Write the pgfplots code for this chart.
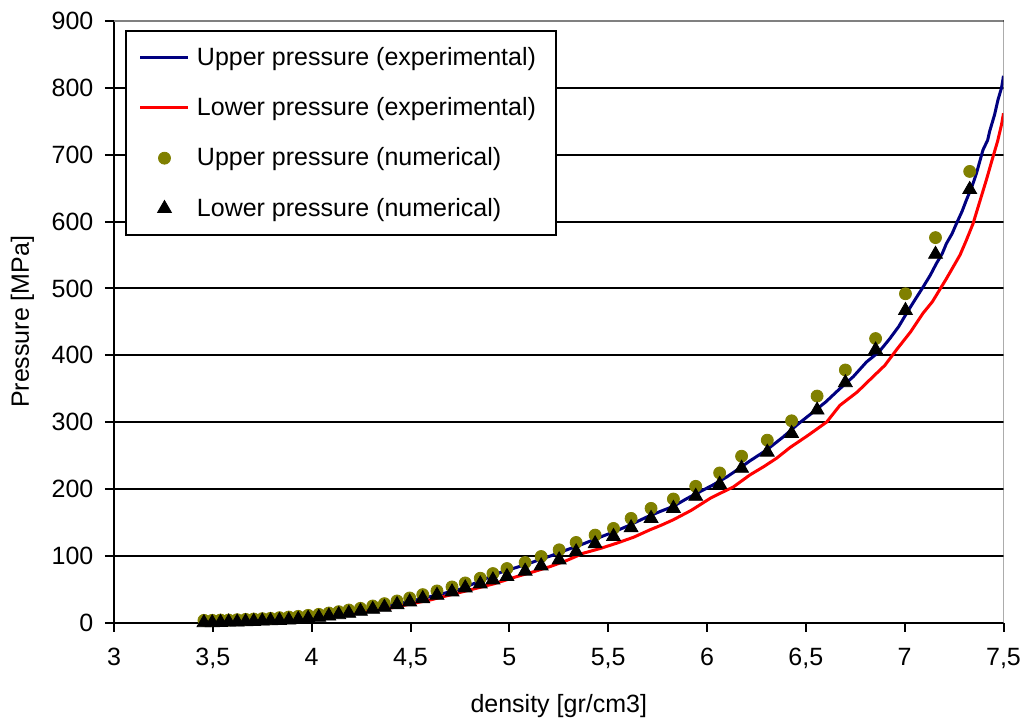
\documentclass[border=0pt]{standalone}
\usepackage{fontspec}
\setmainfont{Liberation Sans}
\usepackage{pgfplots}
\pgfplotsset{compat=1.18}

\definecolor{upperblue}{RGB}{0,0,128}
\definecolor{lowerred}{RGB}{255,0,0}
\definecolor{olivept}{RGB}{128,128,0}
\definecolor{framegray}{RGB}{128,128,128}

% numerical results: density, upper pressure, lower pressure
\pgfplotstableread{
rho   pup    plow
3.455 3.5    0
3.497 3.5    0
3.539 4      0.5
3.580 4      1
3.623 4.5    1
3.666 5      1.5
3.707 5.5    2
3.750 6      2.5
3.792 6.5    3
3.837 7.5    3.5
3.884 8.5    4
3.932 9.5    5
3.982 11     6.5
4.036 12.5   8
4.087 14.5   10
4.137 16.5   12
4.188 19     14
4.247 21.5   17
4.309 25     20
4.368 28.5   23
4.432 32.5   27
4.496 37     31
4.562 42     36
4.634 47.5   41
4.710 53.5   46
4.777 59.5   52
4.853 66.5   58
4.917 73.5   64
4.988 81     69
5.080 90     77
5.161 99     85
5.252 109    94
5.338 120    106
5.434 131    118
5.527 141    129
5.616 156    142
5.717 171    156
5.830 185    171
5.943 204    189
6.064 224    207
6.175 249    231
6.305 273    255
6.428 302    283
6.557 339    318
6.700 378    359
6.853 425    408
7.004 492    467
7.156 576    551
7.329 675    648
}\numtable

\begin{document}
\begin{tikzpicture}[font=\fontsize{12.5}{15}\selectfont]
\begin{axis}[
  scale only axis,
  width=444.75pt, height=300.85pt,
  xmin=3, xmax=7.5, ymin=0, ymax=900,
  axis x line*=bottom, axis y line*=left,
  axis line style={line width=1pt,-},
  xtick={3,3.5,...,7.5},
  ytick={0,100,...,900},
  tick align=outside,
  major tick length=4.5pt,
  tick style={line width=1pt,black},
  ymajorgrids,
  major grid style={line width=1pt,black},
  /pgf/number format/.cd, use comma, 1000 sep={}, assume math mode=true,
  /pgfplots/.cd,
  xticklabel style={yshift=-4.8pt},
  yticklabel style={xshift=-2.3pt},
  legend cell align=left,
  legend style={at={(rel axis cs:0,1)}, anchor=north west,
    xshift=5.5pt, yshift=-4.5pt, draw=black, line width=1pt,
    fill=white, inner xsep=6.5pt, inner ysep=5pt, row sep=8.6pt,
    nodes={inner ysep=3pt, inner xsep=3.5pt}},
  legend image code/.code={\draw[mark repeat=2,mark phase=2,#1]
    plot coordinates {(0pt,0pt) (12pt,0pt) (24pt,0pt)};},
]
% measured curves
\addplot[upperblue, line width=1.5pt] coordinates {
(3.45,0) (3.55,1) (3.65,2) (3.75,3.5) (3.85,5.5) (3.95,8) (4.05,10.5)
(4.15,14) (4.25,18) (4.35,23) (4.45,29) (4.55,35.5) (4.65,42.5) (4.75,50)
(4.85,62) (4.954,75) (5.04,83) (5.122,91) (5.21,100) (5.291,109) (5.375,118)
(5.46,128) (5.53,136) (5.594,144) (5.695,158) (5.76,166) (5.83,174) (5.9,186)
(5.965,196) (6.03,206) (6.1,218) (6.16,230) (6.217,242) (6.3,258) (6.386,278)
(6.46,297) (6.537,315) (6.6,330) (6.672,350) (6.74,368) (6.807,390) (6.87,405)
(6.925,425) (6.97,443) (7.01,463) (7.05,482) (7.093,502) (7.13,520) (7.16,537)
(7.19,552) (7.211,567) (7.24,582) (7.262,597) (7.29,615) (7.312,632) (7.34,652)
(7.363,672) (7.38,690) (7.396,707) (7.42,722) (7.43,735) (7.455,760)
(7.472,782) (7.49,800) (7.5,818)};
\addlegendentry{Upper pressure (experimental)}
\addplot[lowerred, line width=1.5pt] coordinates {
(3.45,0) (3.6,1) (3.8,3.5) (4.0,7) (4.2,13) (4.4,22) (4.6,34) (4.8,49)
(4.92,58) (5.038,69) (5.12,76) (5.207,84) (5.29,93) (5.375,104) (5.46,111)
(5.544,119) (5.63,128) (5.712,139) (5.77,146) (5.83,154) (5.92,168)
(6.016,186) (6.07,194) (6.133,203) (6.217,221) (6.29,234) (6.352,246)
(6.42,262) (6.51,280) (6.605,300) (6.672,325) (6.76,345) (6.84,368)
(6.9,385) (6.958,408) (7.03,435) (7.093,463) (7.14,480) (7.177,498)
(7.21,514) (7.245,532) (7.28,550) (7.312,572) (7.346,597) (7.38,630)
(7.413,662) (7.447,697) (7.47,720) (7.49,745) (7.5,762)};
\addlegendentry{Lower pressure (experimental)}
% simulated values
\addplot[only marks, mark=*, mark size=3pt,
  mark options={fill=olivept, draw=olivept, line width=0.4pt}]
  table[x=rho, y=pup] {\numtable};
\addlegendentry{Upper pressure (numerical)}
\addplot[only marks, mark=triangle*, mark size=4pt,
  mark options={fill=black, draw=black, line width=0.4pt}]
  table[x=rho, y=plow] {\numtable};
\addlegendentry{Lower pressure (numerical)}
% frame on the top and right sides
\draw[framegray, line width=1pt] (rel axis cs:0,1) -- (rel axis cs:1,1) -- (rel axis cs:1,0);
\coordinate (sw) at (rel axis cs:0,0);
\coordinate (ne) at (rel axis cs:1,1);
\coordinate (ylab) at (rel axis cs:0,0.5);
\coordinate (xlab) at (rel axis cs:0.5,0);
\end{axis}
\node[rotate=90, anchor=center] at ([xshift=-45.75pt]ylab) {Pressure [MPa]};
\node[anchor=center] at ([yshift=-41.65pt]xlab) {density [gr/cm3]};
\pgfresetboundingbox
\useasboundingbox ([xshift=-57pt,yshift=-52.15pt]sw) rectangle ([xshift=12.25pt,yshift=10.5pt]ne);
\end{tikzpicture}
\end{document}
